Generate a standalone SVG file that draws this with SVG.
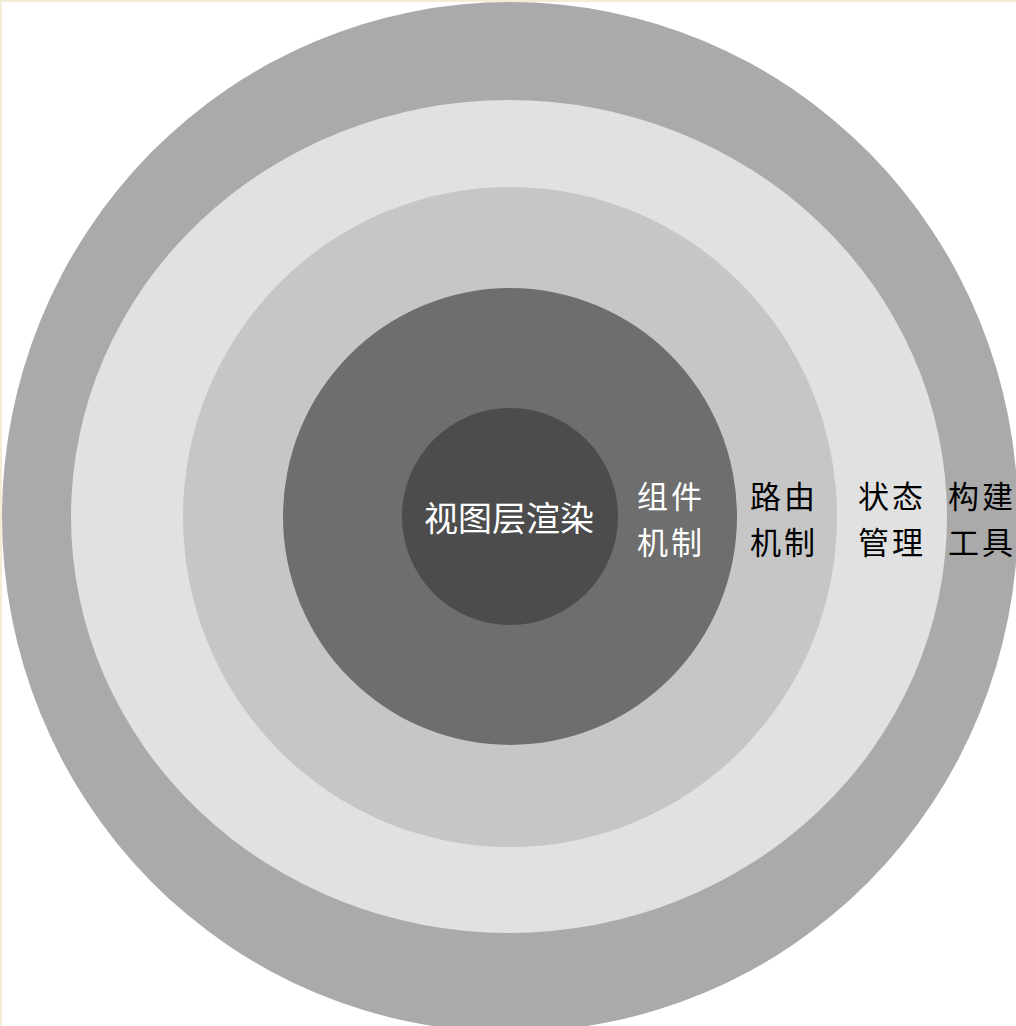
<svg xmlns="http://www.w3.org/2000/svg" width="1016" height="1026" viewBox="0 0 1016 1026">
<style>
  text { font-family: "Noto Sans CJK SC", "Noto Sans", sans-serif; font-size: 34px; }
  .lbl { font-size: 31px; letter-spacing: 3px; }
  .w { fill: #ffffff; }
  .b { fill: #000000; }
</style>
<rect x="0" y="0" width="1016" height="1026" fill="#ffffff"/>
<rect x="0" y="0" width="1016" height="2" fill="#f3ecd6"/>
<rect x="0" y="0" width="2" height="1026" fill="#f3ecd6"/>
<g id="ring-build">
  <ellipse cx="510" cy="517" rx="508" ry="515" fill="#aaaaaa"/>
</g>
<g id="ring-state">
  <ellipse cx="509" cy="516.5" rx="438" ry="416.5" fill="#e1e1e1"/>
</g>
<g id="ring-router">
  <ellipse cx="510" cy="517" rx="327" ry="330" fill="#c6c6c6"/>
</g>
<g id="ring-component">
  <ellipse cx="510" cy="516.5" rx="227" ry="228.5" fill="#6e6e6e"/>
</g>
<g id="core-render">
  <ellipse cx="510" cy="516.5" rx="108" ry="108.5" fill="#4c4c4c"/>
  <text class="w" x="424" y="531">视图层渲染</text>
</g>
<g id="label-component">
  <text class="w lbl" x="637" y="508">组件</text>
  <text class="w lbl" x="637" y="553.5">机制</text>
</g>
<g id="label-router">
  <text class="b lbl" x="750" y="508">路由</text>
  <text class="b lbl" x="750" y="553.5">机制</text>
</g>
<g id="label-state">
  <text class="b lbl" x="858" y="508">状态</text>
  <text class="b lbl" x="858" y="553.5">管理</text>
</g>
<g id="label-build">
  <text class="b lbl" x="948" y="508">构建</text>
  <text class="b lbl" x="948" y="553.5">工具</text>
</g>
</svg>
